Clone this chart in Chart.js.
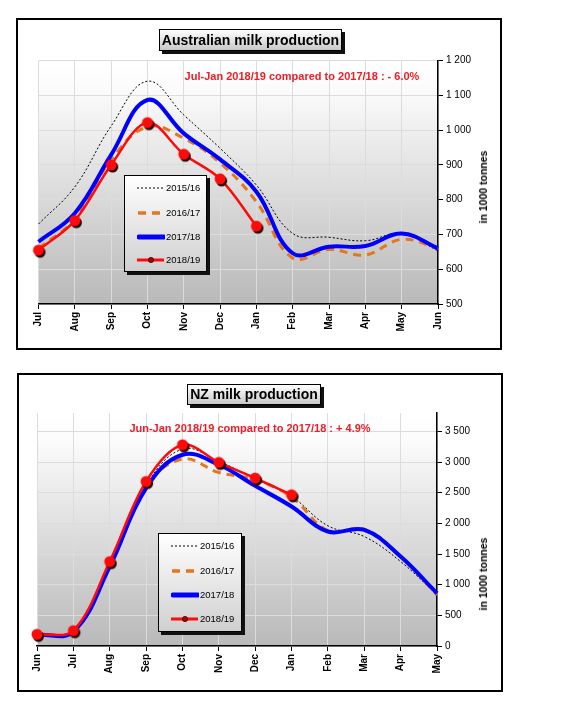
<!DOCTYPE html>
<html>
<head>
<meta charset="utf-8">
<script src="https://cdn.jsdelivr.net/npm/chart.js@4/dist/chart.umd.min.js"></script>
<style>
  body { margin: 0; background: #fff; font-family: "Liberation Sans", Arial, sans-serif; }
  .frame { position: absolute; border: 2px solid #000; box-sizing: border-box; }
  canvas.c { position: absolute; }
  .title { position: absolute; border: 1px solid #000; box-sizing: border-box;
           background: linear-gradient(#ffffff, #c8c8c8); box-shadow: 3px 3px 0 #111;
           font-weight: bold; font-size: 14px; text-align: center; line-height: 20px; }
  .note { position: absolute; color: #ee1c25; font-weight: bold; font-size: 11px;
          white-space: nowrap; transform: translate(-50%, -50%); }
  .ytitle { position: absolute; font-weight: bold; font-size: 10.5px; white-space: nowrap;
            transform: translate(-50%, -50%) rotate(-90deg); }
  .legend { position: absolute; border: 1px solid #000; box-sizing: border-box;
            background: linear-gradient(#ffffff, #d0d0d0); box-shadow: 3px 3px 0 #111; }
  .legend .item { position: absolute; left: 12px; height: 10px; font-size: 9.5px; line-height: 10px; white-space: nowrap; }
  .legend svg { position: absolute; left: 0; top: 1px; }
  .legend span { position: absolute; left: 29px; top: 0; }
</style>
</head>
<body>
<div class="frame" style="left:16px;top:18px;width:486px;height:332px;"></div>
<canvas id="ausChart" class="c" style="left:18px;top:20px;" width="482" height="328"></canvas>
<div class="title" style="left:159px;top:29px;width:183px;height:22px;">Australian milk production</div>
<div class="note" style="left:302px;top:76px;">Jul-Jan 2018/19 compared to 2017/18 : - 6.0%</div>
<div class="ytitle" style="left:483px;top:187px;">in 1000 tonnes</div>
<div class="legend" id="ausLegend" style="left:124px;top:175px;width:83px;height:97px;"></div>

<div class="frame" style="left:17px;top:373px;width:486px;height:319px;"></div>
<canvas id="nzChart" class="c" style="left:19px;top:375px;" width="482" height="315"></canvas>
<div class="title" style="left:187px;top:384px;width:134px;height:21px;line-height:19px;">NZ milk production</div>
<div class="note" style="left:250px;top:428px;">Jun-Jan 2018/19 compared to 2017/18 : + 4.9%</div>
<div class="ytitle" style="left:483px;top:574px;">in 1000 tonnes</div>
<div class="legend" id="nzLegend" style="left:158px;top:533px;width:84px;height:99px;"></div>

<script>
// Australia, season Jul-Jun
const ausMonths = ["Jul", "Aug", "Sep", "Oct", "Nov", "Dec", "Jan", "Feb", "Mar", "Apr", "May", "Jun"];
const aus1516 = [730, 837, 1012, 1141, 1044, 948, 842, 703, 692, 682, 703, 653];
const aus1617 = [660, 745, 915, 1010, 977, 906, 794, 632, 657, 641, 686, 660];
const aus1718 = [679, 761, 929, 1087, 991, 916, 823, 646, 665, 667, 703, 660];
const aus1819 = [655, 740, 900, 1022, 931, 860, 724, null, null, null, null, null];
const ausTicks = [500, 600, 700, 800, 900, 1000, 1100, 1200];

// New Zealand, season Jun-May
const nzMonths = ["Jun", "Jul", "Aug", "Sep", "Oct", "Nov", "Dec", "Jan", "Feb", "Mar", "Apr", "May"];
const nz1516 = [185, 240, 1340, 2620, 3211, 3010, 2722, 2438, 1960, 1785, 1377, 833];
const nz1617 = [190, 245, 1340, 2600, 3048, 2830, 2711, 2428, 1883, 1905, 1460, 833];
const nz1718 = [180, 234, 1295, 2575, 3119, 2956, 2613, 2275, 1867, 1894, 1459, 860];
const nz1819 = [190, 250, 1377, 2683, 3282, 2994, 2738, 2466, null, null, null, null];
const nzTicks = [0, 500, 1000, 1500, 2000, 2500, 3000, 3500];

const seasons = ["2015/16", "2016/17", "2017/18", "2018/19"];

const BLACK = "#000000";
const ORANGE = "#e4761e";
const BLUE = "#0000ff";
const RED = "#ff0a0a";

// red marker with a dark drop shadow
const marker = document.createElement("canvas");
marker.width = 20; marker.height = 20;
(function () {
  const m = marker.getContext("2d");
  m.fillStyle = "#1a0000";
  m.beginPath(); m.arc(11.5, 12, 5.5, 0, Math.PI * 2); m.fill();
  m.fillStyle = RED;
  m.beginPath(); m.arc(10, 10, 5.5, 0, Math.PI * 2); m.fill();
})();

function spaced(v) {
  return String(v).replace(/\B(?=(\d{3})+(?!\d))/g, " ");
}

const plotBg = {
  id: "plotBg",
  beforeDraw(chart) {
    const a = chart.chartArea, ctx = chart.ctx;
    const g = ctx.createLinearGradient(0, a.top, 0, a.bottom);
    g.addColorStop(0, "#ffffff");
    g.addColorStop(0.12, "#fbfbfb");
    g.addColorStop(1, "#b9b9b9");
    ctx.save();
    ctx.fillStyle = g;
    ctx.fillRect(a.left, a.top, a.right - a.left, a.bottom - a.top);
    ctx.restore();
  }
};

function makeChart(id, labels, s1, s2, s3, s4, yMin, yMax, tickValues, pad, yWidth) {
  return new Chart(document.getElementById(id), {
    type: "line",
    data: {
      labels: labels,
      datasets: [
        { label: seasons[0], data: s1, borderColor: BLACK, borderWidth: 1, borderDash: [2, 2],
          pointRadius: 0, tension: 0.4, order: 4 },
        { label: seasons[1], data: s2, borderColor: ORANGE, borderWidth: 3, borderDash: [8, 6],
          pointRadius: 0, tension: 0.4, order: 3 },
        { label: seasons[2], data: s3, borderColor: BLUE, borderWidth: 4,
          pointRadius: 0, tension: 0.4, order: 2 },
        { label: seasons[3], data: s4, borderColor: RED, backgroundColor: RED, borderWidth: 2.5,
          pointStyle: marker, pointRadius: 6, tension: 0.35, order: 1 }
      ]
    },
    options: {
      responsive: false,
      animation: false,
      spanGaps: false,
      layout: { padding: { left: pad.left, top: pad.top, right: 0, bottom: 0 } },
      plugins: { legend: { display: false }, tooltip: { enabled: false } },
      scales: {
        x: {
          offset: false,
          grid: { color: "#dcdcdc", tickColor: "#000", tickLength: 5 },
          border: { color: "#000", width: 1.5 },
          ticks: { color: "#000", font: { family: "Liberation Sans", size: 10, weight: "bold" },
                   minRotation: 90, maxRotation: 90, padding: 3, autoSkip: false },
          afterFit(scale) { scale.height = 44; }
        },
        y: {
          position: "right",
          min: yMin, max: yMax,
          grid: { color: "#dcdcdc", tickColor: "#000", tickLength: 5 },
          border: { color: "#000", width: 1.5 },
          ticks: { color: "#000", padding: 3,
                   font: { family: "Liberation Sans", size: 10 },
                   callback: (v) => spaced(v) },
          afterBuildTicks(scale) { scale.ticks = tickValues.map((v) => ({ value: v })); },
          afterFit(scale) { scale.width = yWidth; }
        }
      }
    },
    plugins: [plotBg]
  });
}

makeChart("ausChart", ausMonths, aus1516, aus1617, aus1718, aus1819, 500, 1200, ausTicks,
          { left: 20.5, top: 40.7 }, 62);
makeChart("nzChart", nzMonths, nz1516, nz1617, nz1718, nz1819, 0, 3800, nzTicks,
          { left: 18, top: 38 }, 64);

// legends built from the same season names
const legendSamples = [
  '<line x1="0" y1="4" x2="27" y2="4" stroke="#000" stroke-width="1" stroke-dasharray="2,2"/>',
  '<line x1="1" y1="4" x2="27" y2="4" stroke="' + ORANGE + '" stroke-width="3.5" stroke-dasharray="8,6"/>',
  '<line x1="2" y1="4" x2="27" y2="4" stroke="' + BLUE + '" stroke-width="5" stroke-linecap="round"/>',
  '<line x1="0" y1="4" x2="27" y2="4" stroke="' + RED + '" stroke-width="3"/><circle cx="14" cy="4" r="2.6" fill="#b00000" stroke="#300" stroke-width="0.8"/>'
];
function buildLegend(id, tops) {
  const el = document.getElementById(id);
  seasons.forEach((s, i) => {
    const d = document.createElement("div");
    d.className = "item";
    d.style.top = tops[i] + "px";
    d.innerHTML = '<svg width="28" height="8">' + legendSamples[i] + '</svg><span>' + s + '</span>';
    el.appendChild(d);
  });
}
buildLegend("ausLegend", [7, 32, 56, 79]);
buildLegend("nzLegend", [7, 32, 56, 80]);
</script>
</body>
</html>
